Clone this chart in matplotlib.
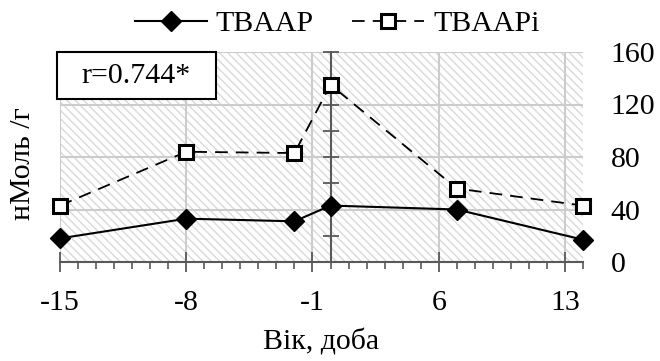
import matplotlib
matplotlib.use('Agg')
import matplotlib.pyplot as plt
from matplotlib.ticker import MultipleLocator
from matplotlib.patches import Rectangle

plt.rcParams['font.family'] = ['Liberation Serif', 'DejaVu Serif']
plt.rcParams['axes.unicode_minus'] = False
plt.rcParams['hatch.color'] = '#d9d9d9'
plt.rcParams['hatch.linewidth'] = 1.0

days = [-15, -8, -2, 0, 7, 14]
tbaap = [18, 33, 31, 43, 40, 17]
tbaapi = [43, 84, 83, 135, 56, 43]

FS = 21.5
AXC = '#595959'

fig = plt.figure(figsize=(6.6, 3.61), dpi=100)
ax = fig.add_axes([60/660, 1 - 262/361, 523/660, 210/361])

# hatched background
bg = Rectangle((0, 0), 1, 1, transform=ax.transAxes, facecolor='white',
               edgecolor='#d9d9d9', linewidth=0, hatch='\\\\\\\\', zorder=0)
ax.add_patch(bg)

ax.plot(days, tbaap, color='black', linestyle='-', linewidth=1.5, marker='D',
        markersize=10, label='TBAAP', zorder=3, clip_on=False)
ax.plot(days, tbaapi, color='black', linestyle=(0, (7, 4.5)), linewidth=1.3,
        marker='s', markersize=10.5, markerfacecolor='white', markeredgewidth=2.2,
        label='TBAAPi', zorder=3, clip_on=False)

ax.set_xlim(-15, 14)
ax.set_ylim(0, 160)

ax.xaxis.set_major_locator(MultipleLocator(7, offset=-1))
ax.xaxis.set_minor_locator(MultipleLocator(1))
ax.yaxis.set_major_locator(MultipleLocator(40))
ax.yaxis.set_minor_locator(MultipleLocator(20))

ax.grid(True, which='major', color='#cccccc', linewidth=1.5, zorder=1)
ax.set_axisbelow(True)

for s in ['top', 'right']:
    ax.spines[s].set_visible(False)
ax.spines['left'].set_position(('data', 0))
ax.spines['left'].set_color(AXC)
ax.spines['left'].set_linewidth(1.5)
ax.spines['bottom'].set_color(AXC)
ax.spines['bottom'].set_linewidth(1.5)

ax.tick_params(axis='x', which='major', direction='inout', length=14, width=1.3,
               color=AXC, pad=13, labelsize=FS)
ax.tick_params(axis='x', which='minor', direction='out', length=5, width=1.2,
               color=AXC)
ax.tick_params(axis='y', which='both', direction='inout', length=12, width=1.3,
               color=AXC, left=True, right=False, labelleft=False,
               labelright=True, pad=14, labelsize=FS)

ax.set_xlabel('Вік, доба', fontsize=FS, labelpad=9)
ax.set_ylabel('нМоль /г', fontsize=FS)
ax.yaxis.set_label_position('left')
ax.yaxis.set_label_coords(-0.045, 0.47)

# correlation box
box = Rectangle((-0.006, 0.776), 0.304, 0.224, transform=ax.transAxes,
                facecolor='white', edgecolor='black', linewidth=1.5,
                zorder=4, clip_on=False)
ax.add_patch(box)
ax.text(0.146, 0.885, 'r=0.744*', transform=ax.transAxes, fontsize=FS,
        ha='center', va='center', zorder=5)

ax.legend(loc='center', bbox_to_anchor=(0.53, 1.135), ncol=2, frameon=False,
          fontsize=FS, handlelength=2.4, handletextpad=0.3, columnspacing=1.3,
          borderaxespad=0)

fig.savefig('out.png', dpi=100)
